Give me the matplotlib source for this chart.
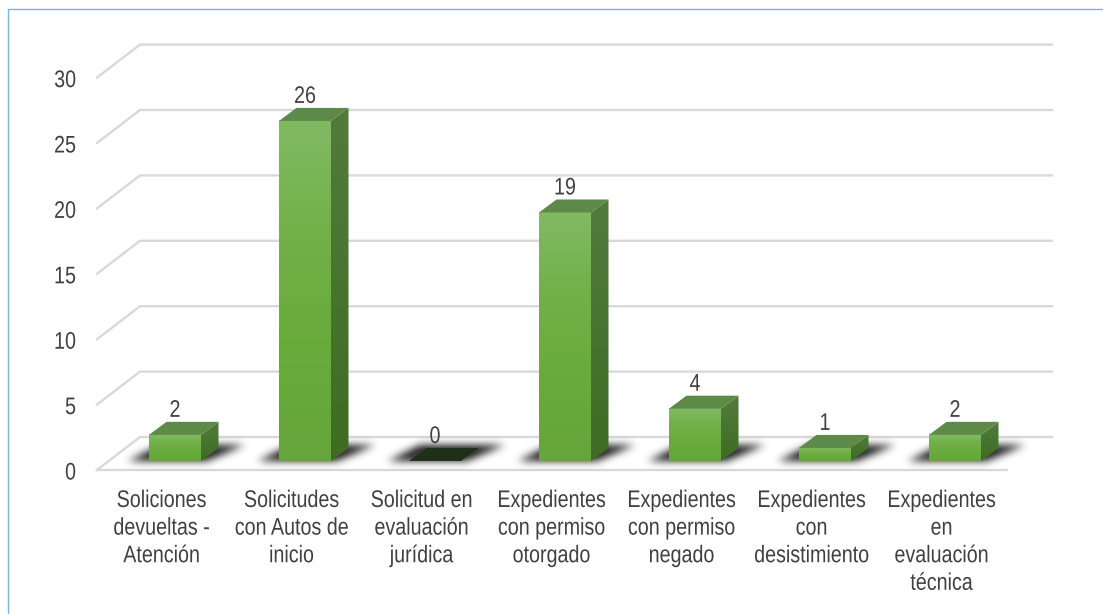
import numpy as np
import matplotlib
matplotlib.use("Agg")
import matplotlib.pyplot as plt
from matplotlib.colors import LinearSegmentedColormap
from matplotlib.lines import Line2D
from matplotlib.patches import Polygon
from matplotlib.patheffects import AbstractPathEffect
from matplotlib.transforms import Affine2D

categories = ["Soliciones\ndevueltas -\nAtención", "Solicitudes\ncon Autos de\ninicio",
              "Solicitud en\nevaluación\njurídica", "Expedientes\ncon permiso\notorgado",
              "Expedientes\ncon permiso\nnegado", "Expedientes\ncon\ndesistimiento",
              "Expedientes\nen\nevaluación\ntécnica"]
values = [2, 26, 0, 19, 4, 1, 2]
y_ticks = [0, 5, 10, 15, 20, 25, 30]

W, H = 1103, 614
plt.rcParams["font.family"] = ["Liberation Sans", "DejaVu Sans"]
fig = plt.figure(figsize=(W / 100, H / 100), dpi=100, facecolor="white")
ax = fig.add_axes([0, 0, 1, 1])
ax.axis("off")

# scale: category 0 centre at 175px, step 130px; value 0 at y=461px, 13.08px per unit
PX, PY = 130.0, 13.08
X0, Y0 = 175.0, 461.0
XL = (-X0 / PX, (W - X0) / PX)
YL = ((Y0 - H) / PY, Y0 / PY)
ax.set_xlim(*XL)
ax.set_ylim(*YL)
dx = lambda p: p / PX
dy = lambda p: p / PY

GRID = "#d9d9d9"
TEXT = "#404040"
FS = 17.3
SQUEEZE = 0.82


class Narrow(AbstractPathEffect):
    """Condense text horizontally about its anchor, like an Arial Narrow face."""
    def __init__(self, cx):
        super().__init__()
        self.cx = cx

    def draw_path(self, renderer, gc, tpath, affine, rgbFace=None):
        t = affine + Affine2D().translate(-self.cx, 0).scale(SQUEEZE, 1).translate(self.cx, 0)
        renderer.draw_path(gc, tpath, t, rgbFace)


def label(s, x, y, ox_px, oy_px, ha, va, **kw):
    txt = ax.annotate(s, (x, y), xytext=(ox_px, oy_px), textcoords="offset pixels",
                      ha=ha, va=va, fontsize=FS, color=TEXT, zorder=6, **kw)
    cx = ax.transData.transform((x, y))[0] + ox_px
    txt.set_path_effects([Narrow(cx)])
    return txt


# outer frame (top + left)
fig.add_artist(Line2D([7.5 / W, 7.5 / W, 1], [0, 1 - 8.5 / H, 1 - 8.5 / H],
                      color="#7fb3dd", lw=1.0, transform=fig.transFigure))

# gridlines / wall
wall_l, wall_r, grid_r = dx(97 - X0), dx(140 - X0), dx(1052 - X0)
front_drop, back_rise = dy(9), dy(24)
for t in y_ticks:
    ax.plot([wall_l, wall_r, grid_r], [t - front_drop, t + back_rise, t + back_rise],
            color=GRID, lw=1.7, solid_joinstyle="miter", zorder=1)
    label(str(t), wall_l, t - front_drop, -21, -1, "right", "center_baseline")
ax.plot([wall_l, dx(1007 - X0)], [-front_drop, -front_drop], color=GRID, lw=1.7, zorder=1)

# blurred floor shadows
yy, xx = np.mgrid[0:H, 0:W]
mask = np.zeros((H, W))
for i in range(len(values)):
    c = X0 + i * PX
    top, bot = 445.0, 460.0
    f = np.clip((bot - yy) / (bot - top), 0, 1)
    left = c - 46 + f * 30
    right = c + 32 + f * 36
    mask[(yy >= top) & (yy <= bot) & (xx >= left) & (xx <= right)] = 1
k = np.exp(-0.5 * (np.arange(-12, 13) / 4.0) ** 2)
k /= k.sum()
mask = np.apply_along_axis(lambda r: np.convolve(r, k, mode="same"), 1, mask)
mask = np.apply_along_axis(lambda r: np.convolve(r, k, mode="same"), 0, mask)
shadow = np.zeros((H, W, 4))
shadow[..., :3] = 0.17
shadow[..., 3] = np.clip(mask * 1.1, 0, 0.92)
ax.imshow(shadow, extent=XL + YL, origin="upper", aspect="auto", zorder=2, interpolation="bilinear")

# bars
half = dx(26)
ox, oy = dx(17.5), dy(13)
front_cm = LinearSegmentedColormap.from_list("f", ["#82ba64", "#72b048", "#69ab3b", "#65a53c"])
side_cm = LinearSegmentedColormap.from_list("s", ["#537a3d", "#477530", "#3f6c22"])
grad = np.linspace(0, 1, 256).reshape(-1, 1)
for i, v in enumerate(values):
    if v > 0:
        ax.imshow(grad, cmap=front_cm, extent=(i - half, i + half, 0, v), origin="upper",
                  aspect="auto", zorder=3)
        side = Polygon([(i + half, 0), (i + half + ox, oy), (i + half + ox, v + oy), (i + half, v)],
                       closed=True, facecolor="none", edgecolor="none", zorder=3)
        ax.add_patch(side)
        im = ax.imshow(grad, cmap=side_cm, extent=(i + half, i + half + ox, 0, v + oy), origin="upper",
                       aspect="auto", zorder=3)
        im.set_clip_path(side)
    top_col = "#5d8a49" if v > 0 else "#1f2f18"
    ax.add_patch(Polygon([(i - half, v), (i + half, v), (i + half + ox, v + oy), (i - half + ox, v + oy)],
                         closed=True, facecolor=top_col, edgecolor="none", zorder=4))
    label(str(v), i, v + oy, 0, 11, "center", "center")
    label(categories[i], i, 0, -13.5, -29, "center", "top", linespacing=1.33)

ax.set_xlim(*XL)
ax.set_ylim(*YL)
fig.savefig("out.png", dpi=100, facecolor="white")
